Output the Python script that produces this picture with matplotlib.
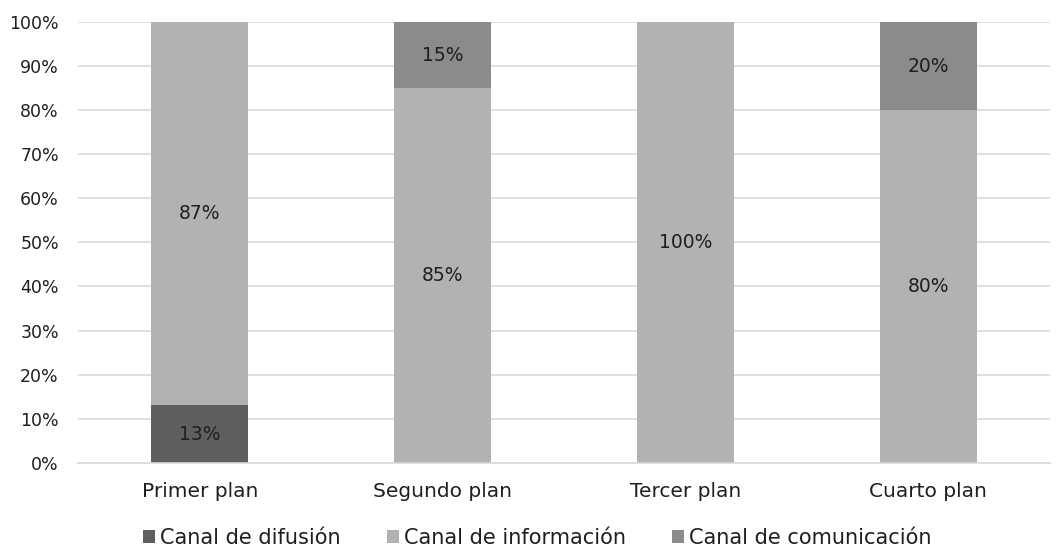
import matplotlib.pyplot as plt
import numpy as np

plt.rcParams['font.family'] = ['DejaVu Sans']

categorias = ["Primer plan", "Segundo plan", "Tercer plan", "Cuarto plan"]
series = ["Canal de difusión", "Canal de información", "Canal de comunicación"]
difusion = [13, 0, 0, 0]
informacion = [87, 85, 100, 80]
comunicacion = [0, 15, 0, 20]
colores = ["#5f5f5f", "#b2b2b2", "#8b8b8b"]

fig = plt.figure(figsize=(10.58, 5.49), dpi=100)
ax = fig.add_axes([0.074, 0.157, 0.918, 0.803])

x = np.arange(len(categorias))
abajo = np.zeros(len(categorias))
for nombre, valores, color in zip(series, [difusion, informacion, comunicacion], colores):
    valores = np.array(valores, dtype=float)
    ax.bar(x, valores, 0.4, bottom=abajo, color=color, label=nombre, zorder=2)
    for xi, v, b in zip(x, valores, abajo):
        if v > 0:
            ax.text(xi, b + v / 2, f"{int(v)}%", ha="center", va="center",
                    fontsize=13.5, color="#1f1f1f", zorder=3)
    abajo += valores

ax.set_xlim(-0.5, len(categorias) - 0.5)
ax.set_ylim(0, 100)
ax.set_yticks(np.arange(0, 101, 10))
ax.set_yticklabels([f"{t}%" for t in range(0, 101, 10)])
ax.set_xticks(x)
ax.set_xticklabels(categorias)
ax.tick_params(axis="both", length=0, labelcolor="#1f1f1f")
ax.tick_params(axis="x", pad=14, labelsize=14.5)
ax.tick_params(axis="y", pad=14, labelsize=12.5)
ax.yaxis.grid(True, color="#d9d9d9", linewidth=1.2, zorder=0)
for s in ["top", "right", "left"]:
    ax.spines[s].set_visible(False)
ax.spines["bottom"].set_color("#d9d9d9")
ax.spines["bottom"].set_linewidth(1.2)

fig.legend(loc="center", ncol=3, frameon=False, fontsize=15,
           bbox_to_anchor=(0.508, 0.02), handlelength=0.58, handleheight=0.58,
           handletextpad=0.25, columnspacing=2.2, labelcolor="#1f1f1f")

fig.savefig("out.png", dpi=100)
